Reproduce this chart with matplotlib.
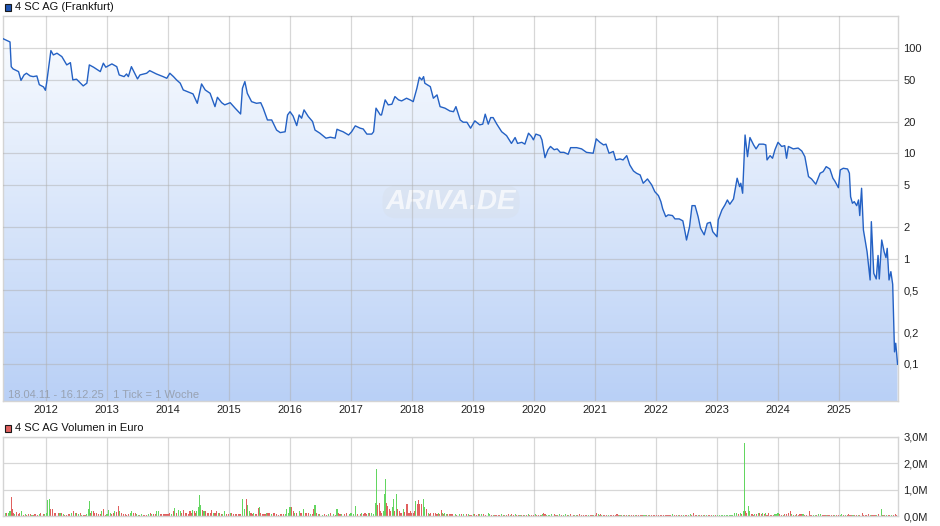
import numpy as np
import matplotlib
matplotlib.use('Agg')
import matplotlib.pyplot as plt
from matplotlib.colors import LinearSegmentedColormap
from matplotlib.patches import Rectangle
from matplotlib.ticker import NullLocator

# Kursverlauf 4 SC AG (Frankfurt), Wochenwerte, x = Jahr als Dezimalzahl
price_year = [
    2011.30, 2011.38, 2011.41, 2011.43, 2011.46, 2011.55, 2011.59, 2011.64, 2011.68, 2011.74,
    2011.79, 2011.85, 2011.89, 2011.96, 2011.99, 2012.01, 2012.08, 2012.12, 2012.18, 2012.26,
    2012.34, 2012.40, 2012.44, 2012.50, 2012.61, 2012.67, 2012.71, 2012.78, 2012.89, 2012.94,
    2012.98, 2013.08, 2013.16, 2013.20, 2013.28, 2013.32, 2013.35, 2013.40, 2013.44, 2013.50,
    2013.54, 2013.65, 2013.70, 2013.81, 2013.92, 2013.98, 2014.03, 2014.09, 2014.14, 2014.20,
    2014.25, 2014.36, 2014.41, 2014.48, 2014.55, 2014.61, 2014.69, 2014.77, 2014.81, 2014.88,
    2014.93, 2015.02, 2015.10, 2015.19, 2015.22, 2015.26, 2015.30, 2015.37, 2015.45, 2015.52,
    2015.56, 2015.63, 2015.70, 2015.78, 2015.84, 2015.92, 2015.96, 2016.00, 2016.05, 2016.11,
    2016.15, 2016.19, 2016.23, 2016.30, 2016.37, 2016.41, 2016.49, 2016.59, 2016.66, 2016.74,
    2016.77, 2016.82, 2016.87, 2016.96, 2017.01, 2017.07, 2017.15, 2017.20, 2017.26, 2017.34,
    2017.37, 2017.41, 2017.48, 2017.50, 2017.56, 2017.61, 2017.67, 2017.72, 2017.78, 2017.83,
    2017.91, 2017.97, 2018.02, 2018.08, 2018.12, 2018.16, 2018.19, 2018.21, 2018.30, 2018.35,
    2018.41, 2018.46, 2018.54, 2018.62, 2018.68, 2018.72, 2018.79, 2018.84, 2018.90, 2018.96,
    2019.03, 2019.11, 2019.16, 2019.20, 2019.25, 2019.29, 2019.33, 2019.39, 2019.47, 2019.55,
    2019.63, 2019.69, 2019.73, 2019.80, 2019.85, 2019.91, 2019.96, 2019.99, 2020.03, 2020.10,
    2020.13, 2020.18, 2020.23, 2020.27, 2020.33, 2020.38, 2020.43, 2020.49, 2020.56, 2020.60,
    2020.70, 2020.78, 2020.86, 2020.97, 2021.02, 2021.08, 2021.14, 2021.18, 2021.23, 2021.30,
    2021.34, 2021.41, 2021.46, 2021.52, 2021.57, 2021.63, 2021.68, 2021.74, 2021.79, 2021.86,
    2021.93, 2021.98, 2022.04, 2022.08, 2022.11, 2022.16, 2022.20, 2022.27, 2022.31, 2022.38,
    2022.44, 2022.48, 2022.50, 2022.55, 2022.59, 2022.64, 2022.69, 2022.73, 2022.79, 2022.84,
    2022.89, 2022.93, 2023.00, 2023.02, 2023.08, 2023.13, 2023.17, 2023.21, 2023.27, 2023.33,
    2023.37, 2023.39, 2023.42, 2023.46, 2023.50, 2023.54, 2023.60, 2023.64, 2023.69, 2023.76,
    2023.80, 2023.82, 2023.87, 2023.91, 2023.95, 2024.00, 2024.06, 2024.11, 2024.14, 2024.17,
    2024.25, 2024.33, 2024.39, 2024.44, 2024.50, 2024.55, 2024.62, 2024.69, 2024.74, 2024.79,
    2024.85, 2024.90, 2024.93, 2024.99, 2025.02, 2025.07, 2025.14, 2025.17, 2025.19, 2025.22,
    2025.25, 2025.29, 2025.32, 2025.34, 2025.37, 2025.40, 2025.46, 2025.51, 2025.53, 2025.57,
    2025.61, 2025.64, 2025.66, 2025.70, 2025.74, 2025.77, 2025.79, 2025.82, 2025.85, 2025.88,
    2025.91, 2025.93, 2025.96,
]
price_value = [
    122, 116, 114, 66.4, 63.2, 59.6, 49.2, 55.4, 57.5, 54.2,
    53.4, 54.2, 44.8, 42.6, 39.6, 46.5, 94.3, 85.8, 89.1, 82.7,
    69.0, 72.5, 49.7, 50.5, 43.6, 46.3, 69.0, 65.6, 59.6, 71.6,
    65.6, 70.5, 66.4, 55.4, 53.4, 56.6, 53.4, 66.4, 59.6, 50.8,
    55.4, 57.5, 60.9, 56.6, 53.4, 51.5, 57.5, 53.4, 49.7, 46.3,
    39.9, 37.6, 36.6, 29.8, 45.5, 39.9, 37.1, 27.7, 34.0, 30.2,
    28.8, 30.2, 26.8, 23.6, 41.4, 47.9, 37.1, 30.9, 29.8, 30.2,
    26.8, 20.7, 20.7, 16.6, 15.7, 16.0, 23.1, 24.8, 22.6, 18.3,
    23.1, 21.5, 25.8, 22.3, 20.0, 16.6, 15.5, 13.9, 14.2, 13.9,
    16.9, 16.4, 16.0, 14.9, 16.0, 18.2, 17.3, 17.0, 15.2, 15.2,
    16.0, 26.8, 23.1, 23.1, 32.1, 28.8, 29.2, 34.5, 32.1, 31.4,
    33.3, 32.1, 30.9, 41.4, 52.7, 49.7, 53.4, 46.2, 42.9, 33.3,
    35.8, 27.7, 26.8, 25.2, 24.8, 27.7, 20.7, 19.7, 19.7, 17.3,
    20.3, 18.6, 18.9, 23.5, 18.9, 21.8, 21.8, 18.9, 16.0, 14.7,
    12.4, 14.1, 12.4, 12.7, 12.2, 15.5, 14.4, 13.4, 15.2, 14.7,
    13.4, 9.08, 10.8, 11.6, 10.8, 11.0, 10.2, 10.2, 9.78, 11.3,
    11.3, 11.0, 10.2, 10.0, 13.7, 12.7, 12.0, 12.2, 10.0, 10.4,
    8.64, 8.83, 8.64, 9.49, 7.74, 6.79, 6.46, 6.22, 5.19, 5.70,
    5.00, 4.32, 3.96, 3.47, 2.96, 2.50, 2.60, 2.56, 2.38, 2.38,
    2.28, 1.74, 1.50, 2.01, 3.18, 3.18, 2.50, 1.94, 1.68, 2.16,
    2.21, 1.80, 1.61, 2.33, 2.89, 3.23, 3.60, 3.28, 3.68, 5.79,
    4.82, 5.19, 4.17, 14.9, 9.28, 14.1, 12.0, 11.0, 12.2, 12.2,
    12.0, 8.64, 9.49, 8.96, 10.8, 12.7, 11.6, 11.8, 8.96, 11.6,
    11.0, 11.2, 10.5, 9.28, 6.00, 5.70, 5.08, 6.46, 6.69, 7.46,
    7.09, 5.79, 5.46, 4.71, 6.94, 7.20, 7.09, 6.46, 3.87, 3.35,
    3.47, 3.18, 3.60, 2.56, 4.65, 1.87, 1.16, 0.626, 2.24, 0.725,
    0.640, 1.07, 0.640, 1.50, 1.16, 1.02, 1.25, 0.626, 0.751, 0.570,
    0.130, 0.157, 0.099,
]

# Volumen in Tausend Euro, g = Kurs gestiegen, r = Kurs gefallen
vol_year = [
    2011.29, 2011.33, 2011.35, 2011.38, 2011.41, 2011.43, 2011.45, 2011.47, 2011.49, 2011.52,
    2011.55, 2011.57, 2011.60, 2011.63, 2011.66, 2011.68, 2011.71, 2011.74, 2011.77, 2011.79,
    2011.82, 2011.86, 2011.89, 2011.91, 2011.96, 2011.98, 2012.01, 2012.03, 2012.05, 2012.08,
    2012.11, 2012.14, 2012.16, 2012.20, 2012.23, 2012.26, 2012.28, 2012.31, 2012.34, 2012.37,
    2012.39, 2012.42, 2012.45, 2012.48, 2012.50, 2012.53, 2012.56, 2012.58, 2012.61, 2012.64,
    2012.67, 2012.69, 2012.71, 2012.73, 2012.75, 2012.78, 2012.80, 2012.83, 2012.86, 2012.89,
    2012.91, 2012.94, 2012.97, 2013.00, 2013.02, 2013.05, 2013.08, 2013.10, 2013.13, 2013.16,
    2013.19, 2013.21, 2013.24, 2013.27, 2013.30, 2013.32, 2013.35, 2013.38, 2013.40, 2013.43,
    2013.46, 2013.49, 2013.51, 2013.54, 2013.57, 2013.60, 2013.62, 2013.65, 2013.68, 2013.71,
    2013.73, 2013.76, 2013.79, 2013.81, 2013.84, 2013.87, 2013.90, 2013.92, 2013.95, 2013.98,
    2014.00, 2014.03, 2014.06, 2014.09, 2014.11, 2014.14, 2014.17, 2014.20, 2014.22, 2014.25,
    2014.28, 2014.31, 2014.33, 2014.36, 2014.38, 2014.40, 2014.43, 2014.45, 2014.47, 2014.50,
    2014.52, 2014.54, 2014.57, 2014.59, 2014.62, 2014.65, 2014.67, 2014.69, 2014.72, 2014.74,
    2014.77, 2014.80, 2014.83, 2014.85, 2014.87, 2014.90, 2014.93, 2014.96, 2014.99, 2015.02,
    2015.04, 2015.07, 2015.10, 2015.13, 2015.15, 2015.18, 2015.22, 2015.25, 2015.28, 2015.30,
    2015.33, 2015.36, 2015.38, 2015.40, 2015.43, 2015.45, 2015.48, 2015.50, 2015.52, 2015.55,
    2015.57, 2015.59, 2015.62, 2015.64, 2015.67, 2015.70, 2015.73, 2015.75, 2015.78, 2015.81,
    2015.84, 2015.86, 2015.89, 2015.92, 2015.94, 2015.97, 2016.00, 2016.03, 2016.05, 2016.08,
    2016.11, 2016.15, 2016.18, 2016.22, 2016.25, 2016.27, 2016.31, 2016.34, 2016.37, 2016.39,
    2016.41, 2016.44, 2016.46, 2016.49, 2016.53, 2016.57, 2016.60, 2016.63, 2016.67, 2016.71,
    2016.74, 2016.77, 2016.79, 2016.82, 2016.85, 2016.89, 2016.93, 2016.97, 2017.00, 2017.04,
    2017.08, 2017.11, 2017.15, 2017.17, 2017.20, 2017.23, 2017.26, 2017.28, 2017.31, 2017.34,
    2017.37, 2017.40, 2017.42, 2017.44, 2017.46, 2017.48, 2017.50, 2017.53, 2017.55, 2017.565,
    2017.58, 2017.60, 2017.63, 2017.65, 2017.68, 2017.70, 2017.72, 2017.74, 2017.76, 2017.79,
    2017.82, 2017.86, 2017.88, 2017.91, 2017.93, 2017.95, 2017.97, 2017.99, 2018.02, 2018.04,
    2018.06, 2018.09, 2018.10, 2018.13, 2018.16, 2018.19, 2018.21, 2018.24, 2018.27, 2018.29,
    2018.31, 2018.35, 2018.39, 2018.41, 2018.43, 2018.45, 2018.48, 2018.50, 2018.52, 2018.54,
    2018.56, 2018.58, 2018.61, 2018.64, 2018.67, 2018.71, 2018.73, 2018.78, 2018.81, 2018.84,
    2018.89, 2018.92, 2018.95, 2018.98, 2019.01, 2019.03, 2019.06, 2019.09, 2019.11, 2019.14,
    2019.17, 2019.21, 2019.25, 2019.27, 2019.31, 2019.33, 2019.36, 2019.39, 2019.42, 2019.44,
    2019.47, 2019.50, 2019.52, 2019.55, 2019.58, 2019.61, 2019.63, 2019.66, 2019.69, 2019.72,
    2019.74, 2019.77, 2019.80, 2019.83, 2019.85, 2019.88, 2019.91, 2019.93, 2019.96, 2019.99,
    2020.02, 2020.04, 2020.07, 2020.10, 2020.13, 2020.145, 2020.16, 2020.18, 2020.21, 2020.24,
    2020.26, 2020.29, 2020.33, 2020.35, 2020.37, 2020.39, 2020.42, 2020.45, 2020.48, 2020.51,
    2020.55, 2020.57, 2020.60, 2020.65, 2020.67, 2020.70, 2020.72, 2020.74, 2020.78, 2020.81,
    2020.84, 2020.86, 2020.89, 2020.92, 2020.95, 2020.98, 2021.01, 2021.03, 2021.05, 2021.07,
    2021.09, 2021.11, 2021.14, 2021.16, 2021.19, 2021.22, 2021.25, 2021.27, 2021.30, 2021.33,
    2021.36, 2021.38, 2021.41, 2021.44, 2021.46, 2021.49, 2021.52, 2021.55, 2021.57, 2021.60,
    2021.63, 2021.66, 2021.68, 2021.71, 2021.74, 2021.77, 2021.79, 2021.82, 2021.85, 2021.88,
    2021.90, 2021.93, 2021.96, 2021.98, 2022.01, 2022.04, 2022.07, 2022.09, 2022.12, 2022.15,
    2022.18, 2022.20, 2022.23, 2022.27, 2022.30, 2022.34, 2022.37, 2022.39, 2022.42, 2022.45,
    2022.48, 2022.50, 2022.53, 2022.56, 2022.58, 2022.61, 2022.64, 2022.67, 2022.69, 2022.72,
    2022.75, 2022.78, 2022.80, 2022.83, 2022.86, 2022.88, 2022.91, 2022.94, 2022.97, 2023.01,
    2023.04, 2023.07, 2023.09, 2023.12, 2023.15, 2023.17, 2023.20, 2023.23, 2023.26, 2023.29,
    2023.32, 2023.35, 2023.38, 2023.40, 2023.43, 2023.45, 2023.465, 2023.49, 2023.51, 2023.53,
    2023.56, 2023.58, 2023.60, 2023.62, 2023.65, 2023.68, 2023.70, 2023.73, 2023.75, 2023.78,
    2023.80, 2023.82, 2023.84, 2023.87, 2023.90, 2023.92, 2023.95, 2023.98, 2024.00, 2024.03,
    2024.06, 2024.09, 2024.11, 2024.14, 2024.17, 2024.20, 2024.22, 2024.25, 2024.28, 2024.31,
    2024.33, 2024.36, 2024.39, 2024.41, 2024.44, 2024.47, 2024.51, 2024.53, 2024.55, 2024.58,
    2024.61, 2024.63, 2024.66, 2024.70, 2024.73, 2024.75, 2024.77, 2024.80, 2024.82, 2024.85,
    2024.88, 2024.91, 2024.93, 2024.96, 2024.99, 2025.02, 2025.04, 2025.07, 2025.11, 2025.14,
    2025.155, 2025.18, 2025.21, 2025.23, 2025.26, 2025.29, 2025.32, 2025.34, 2025.38, 2025.40,
    2025.43, 2025.45, 2025.48, 2025.51, 2025.54, 2025.56, 2025.59, 2025.62, 2025.645, 2025.69,
    2025.71, 2025.73, 2025.75, 2025.78, 2025.81, 2025.83, 2025.86, 2025.89, 2025.92, 2025.94,
]
vol_k = [
    178, 127, 127, 102, 178, 724, 279, 102, 64, 152,
    64, 102, 178, 38, 64, 51, 64, 64, 38, 51,
    64, 51, 64, 102, 64, 64, 102, 597, 635, 279,
    279, 127, 127, 102, 102, 127, 64, 38, 38, 64,
    64, 102, 178, 102, 102, 64, 102, 38, 38, 38,
    64, 254, 559, 127, 178, 178, 127, 102, 64, 64,
    203, 254, 38, 64, 216, 127, 64, 127, 178, 152,
    381, 178, 102, 64, 64, 38, 64, 102, 178, 127,
    102, 64, 38, 38, 64, 38, 38, 38, 64, 102,
    64, 64, 64, 178, 178, 64, 64, 64, 64, 64,
    64, 127, 64, 178, 318, 127, 216, 203, 102, 216,
    127, 102, 64, 178, 127, 216, 178, 102, 203, 356,
    787, 406, 216, 178, 178, 127, 102, 102, 216, 127,
    102, 178, 127, 102, 64, 64, 178, 64, 64, 102,
    127, 64, 64, 64, 64, 64, 660, 279, 635, 406,
    203, 127, 64, 127, 64, 64, 318, 356, 127, 64,
    64, 64, 127, 127, 127, 64, 127, 102, 64, 38,
    64, 64, 64, 64, 254, 127, 356, 356, 178, 127,
    127, 178, 127, 279, 102, 102, 102, 64, 64, 254,
    406, 127, 64, 64, 38, 64, 38, 64, 102, 64,
    38, 254, 102, 64, 64, 64, 102, 64, 102, 64,
    381, 64, 64, 127, 64, 102, 64, 127, 102, 102,
    64, 483, 1803, 432, 483, 178, 102, 203, 826, 1397,
    483, 381, 254, 203, 356, 635, 178, 826, 279, 178,
    127, 254, 152, 445, 445, 127, 203, 102, 127, 178,
    559, 445, 597, 445, 445, 660, 356, 254, 102, 64,
    127, 102, 102, 64, 102, 64, 216, 127, 64, 102,
    64, 64, 64, 64, 64, 64, 38, 64, 64, 64,
    64, 64, 38, 38, 64, 64, 38, 64, 64, 64,
    64, 38, 102, 64, 25, 25, 25, 38, 25, 38,
    64, 38, 25, 38, 64, 38, 64, 25, 64, 38,
    25, 38, 25, 38, 25, 25, 64, 25, 38, 25,
    64, 38, 38, 38, 38, 64, 102, 64, 38, 38,
    38, 64, 64, 25, 38, 25, 64, 38, 25, 64,
    38, 25, 64, 25, 25, 38, 25, 64, 38, 38,
    38, 38, 25, 25, 25, 38, 25, 102, 64, 25,
    64, 25, 38, 25, 38, 25, 25, 38, 25, 25,
    64, 38, 25, 38, 25, 38, 25, 25, 38, 25,
    25, 25, 25, 25, 25, 25, 25, 25, 25, 25,
    25, 25, 25, 25, 25, 25, 25, 25, 25, 25,
    25, 25, 25, 64, 25, 25, 25, 25, 25, 25,
    25, 25, 25, 64, 25, 102, 38, 25, 25, 25,
    25, 25, 25, 25, 25, 25, 25, 25, 25, 25,
    25, 25, 25, 25, 38, 25, 25, 38, 38, 128,
    102, 64, 128, 64, 179, 2778, 205, 128, 397, 205,
    64, 64, 38, 64, 64, 102, 102, 64, 102, 64,
    102, 38, 102, 38, 38, 38, 64, 64, 102, 64,
    38, 38, 64, 64, 102, 179, 64, 38, 38, 64,
    38, 64, 64, 64, 38, 38, 179, 38, 38, 25,
    38, 25, 64, 64, 25, 38, 25, 38, 25, 38,
    25, 38, 25, 25, 38, 25, 64, 25, 38, 25,
    64, 25, 25, 25, 25, 25, 25, 25, 102, 25,
    38, 25, 64, 38, 25, 38, 25, 38, 64, 282,
    25, 38, 25, 38, 25, 38, 25, 25, 64, 25,
]
vol_up = ''.join([
    "rgrggrrrgr", "rrgrgrrrgr", "rrgrrggggr", "rrrrgrgrrr", "rgrgrgrgrr",
    "gggrgrrrrr", "grrgggrrgr", "rgrrrrrggr", "rggrgrrrgr", "grrggrrrrr",
    "rrgrgrggrr", "rrrrrgrrgg", "ggrgrrrrrg", "rrgrrggrrg", "rrrrrrggrg",
    "grrgrrrgrr", "rrgrrgrrrr", "rrrggggrrg", "rgrgrrrgrr", "grgrgrrgrg",
    "rgrrgrrggg", "grrgrrrgrg", "gggrrrrggg", "rrrrggrgrr", "rgrrrrrrrr",
    "grrrrggrgr", "rrrrgrrgrg", "grrrrgrgrg", "rgrrgrrrgg", "rrggrgrrrr",
    "grgrrgrrgr", "rgrrgrgrrr", "grrrggrrgg", "ggrrgrgrgg", "rgrrggrrrr",
    "rrgrrgrrgr", "rgrrrgrrrr", "rrgrgrrgrr", "rgrrrrggrg", "rrrrrrrrrr",
    "rrrgrrgrrg", "rrggrrrrgr", "rgrgrrrgrg", "gggggggggg", "grgrggrrgg",
    "rrrgrgrrgr", "grrrrrgggr", "rgrrrrgrgr", "rrrgrrrrrg", "grggrrrgrr",
    "rrgrrggrgr", "rrrgrrgrrr", "rrrgrrrgrg", "rgrgrrgrrr",
])

year_ticks = list(range(2012, 2026))
price_ticks = [100, 50, 20, 10, 5, 2, 1, 0.5, 0.2, 0.1]
price_labels = ['100', '50', '20', '10', '5', '2', '1', '0,5', '0,2', '0,1']
vol_ticks = [0, 1000, 2000, 3000]
vol_labels = ['0,0M', '1,0M', '2,0M', '3,0M']

plt.rcParams['font.family'] = ['Liberation Sans', 'DejaVu Sans']

GRID = '#b0b0b0'
FRAME = '#d4d4d4'
LINE = '#2461c4'
GREEN = '#63d660'
RED = '#e0605e'

fig = plt.figure(figsize=(9.4, 5.26), dpi=100)
ax = fig.add_axes([3 / 940, 1 - 401 / 526, 895 / 940, 385 / 526])
axv = fig.add_axes([3 / 940, 1 - 516 / 526, 895 / 940, 79 / 526])

# ---- Kurs-Chart ----
ax.set_yscale('log')
ax.set_autoscale_on(False)
ax.set_xlim(2011.295, 2025.967)
ax.set_ylim(0.0444, 201)

# Flaeche unter der Linie mit Farbverlauf
area = ax.fill_between(price_year, price_value, 0.001, facecolor='none', edgecolor='none')
grad = np.linspace(0, 1, 256).reshape(-1, 1)
cmap = LinearSegmentedColormap.from_list('fill', ['#fbfdff', '#b9d0f6'])
img = ax.imshow(grad, cmap=cmap, extent=[0, 1, 0, 1], transform=ax.transAxes,
                aspect='auto', origin='upper', zorder=1, interpolation='bilinear')
img.set_clip_path(area.get_paths()[0], transform=ax.transData)
ax.set_xlim(2011.295, 2025.967)
ax.set_ylim(0.0444, 201)

ax.plot(price_year, price_value, color=LINE, lw=1.0, zorder=3)

ax.set_axisbelow(False)
ax.grid(True, color=GRID, alpha=0.5, lw=0.9)
ax.set_xticks(year_ticks)
ax.set_xticklabels([str(y) for y in year_ticks])
ax.yaxis.tick_right()
ax.set_yticks(price_ticks)
ax.set_yticklabels(price_labels)
ax.yaxis.set_minor_locator(NullLocator())
ax.tick_params(axis='x', length=0, pad=3, labelsize=8, colors='#222222')
ax.tick_params(axis='y', length=0, pad=4, labelsize=8, colors='#222222')
for s in ax.spines.values():
    s.set_color(FRAME)
    s.set_linewidth(1)

ax.text(0.0056, 0.016, '18.04.11 - 16.12.25   1 Tick = 1 Woche', transform=ax.transAxes,
        color='#98a2b2', fontsize=8, va='center', ha='left', zorder=4)

# Wasserzeichen
ax.text(0.5006, 0.517, 'ARIVA.DE', transform=ax.transAxes, ha='center', va='center',
        fontsize=20, fontstyle='italic', fontweight='bold', color='white', alpha=0.7,
        zorder=2,
        bbox=dict(boxstyle='round,pad=0.12,rounding_size=0.5', facecolor='#d7dfea',
                  edgecolor='none', alpha=0.4))

# ---- Volumen-Chart ----
colors = [GREEN if c == 'g' else RED for c in vol_up]
axv.bar(vol_year, vol_k, width=0.018, color=colors, linewidth=0, zorder=2)
axv.set_xlim(2011.295, 2025.967)
axv.set_ylim(0, 3000)
axv.set_xticks(year_ticks)
axv.set_xticklabels([])
axv.yaxis.tick_right()
axv.set_yticks(vol_ticks)
axv.set_yticklabels(vol_labels)
axv.tick_params(axis='x', length=0)
axv.tick_params(axis='y', length=0, pad=4, labelsize=8, colors='#222222')
axv.grid(True, color=GRID, alpha=0.5, lw=0.9, zorder=1)
axv.set_axisbelow(True)
for s in axv.spines.values():
    s.set_color(FRAME)
    s.set_linewidth(1)

# Legenden oben links
fig.patches.append(Rectangle((5 / 940, 1 - 10.5 / 526), 6 / 940, 7 / 526, transform=fig.transFigure,
                             facecolor='#1f55b5', edgecolor='#1a1a1a', lw=0.8))
fig.text(15 / 940, 1 - 6.5 / 526, '4 SC AG (Frankfurt)', fontsize=8, va='center', color='#111111')
fig.patches.append(Rectangle((5 / 940, 1 - 432 / 526), 6 / 940, 7 / 526, transform=fig.transFigure,
                             facecolor='#e0605e', edgecolor='#1a1a1a', lw=0.8))
fig.text(15 / 940, 1 - 428 / 526, '4 SC AG Volumen in Euro', fontsize=8, va='center', color='#111111')

fig.savefig('out.png', dpi=100)
